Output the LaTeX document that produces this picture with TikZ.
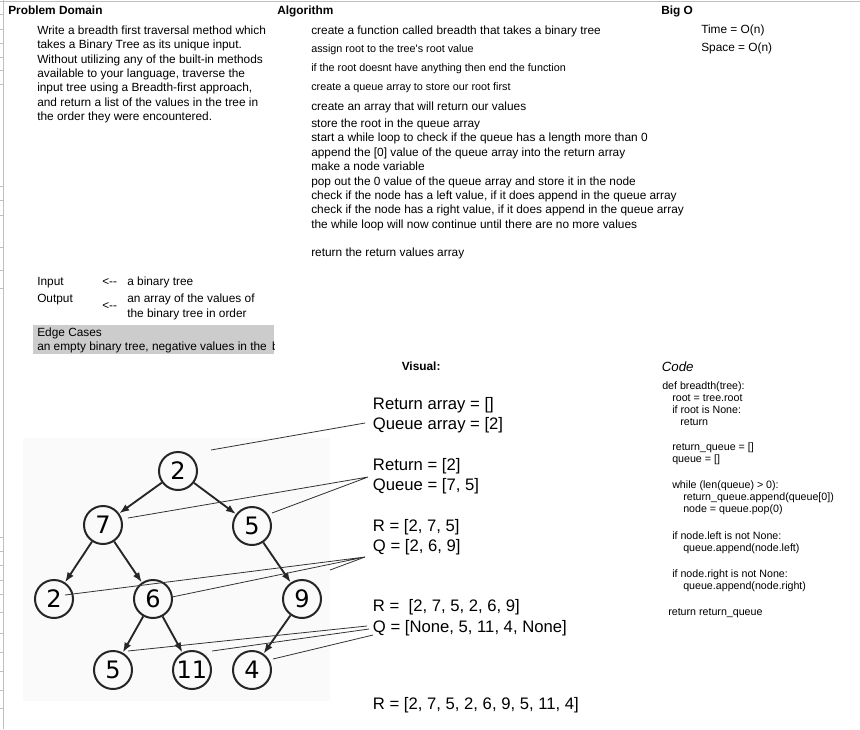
\documentclass[tikz,border=0pt]{standalone}
\usepackage{fontspec}
\setmainfont{Liberation Sans}
\newfontfamily\treefont{DejaVu Sans}
\usetikzlibrary{arrows.meta}
\begin{document}
\begin{tikzpicture}[x=0.75pt,y=-0.75pt,
  txt/.style={anchor=base west, inner sep=0pt, font=\fontsize{8.9}{10.7}\selectfont, text=black},
  hdr/.style={txt, font=\fontsize{8.9}{10.7}\selectfont\bfseries},
  smalltxt/.style={txt, font=\fontsize{8.1}{9.7}\selectfont},
  vis/.style={txt, font=\fontsize{12.5}{15}\selectfont},
  codetxt/.style={txt, font=\fontsize{8}{9.5}\selectfont},
  tn/.style={circle, draw=black!85, line width=1.5pt, minimum size=28.5pt, inner sep=0pt, font=\treefont\fontsize{18}{18}\selectfont},
  te/.style={line width=1.4pt, draw=black!85, -{Latex[length=7.5pt,width=5.5pt]}},
  conn/.style={line width=0.6pt, draw=black!80},
  grid/.style={line width=0.75pt, draw=black!25},
]
\useasboundingbox (0,0) rectangle (860,729);
\fill[white] (0,0) rectangle (860,729);
% sheet grid
\draw[grid] (0,1) -- (860,1);
\draw[grid] (3,0) -- (3,729);
\foreach \yy in {14,29,43,57,70,84,186,200,215,247,270,288,537,551,565,580,594,612,633,652,671,690,708}
  \draw[grid] (0,\yy) -- (3,\yy);

% headers
\node[hdr] (hpd) at (8,14) {Problem Domain};
\node[hdr] (hal) at (277,14) {Algorithm};
\node[hdr] (hbo) at (661,14) {Big O};

% problem domain
\foreach \t [count=\i] in {Write a breadth first traversal method which,
  takes a Binary Tree as its unique input.,
  {Without utilizing any of the built-in methods},
  {available to your language, traverse the},
  {input tree using a Breadth-first approach,},
  {and return a list of the values in the tree in},
  the order they were encountered.}
  \node[txt] (pd\i) at (37,{34.5+14.3*(\i-1)}) {\t};

% algorithm
\node[txt] (a1) at (311,34.3) {create a function called breadth that takes a binary tree};
\node[smalltxt] (a2) at (311,52.5) {assign root to the tree\textquotesingle s root value};
\node[smalltxt] (a3) at (311,71.5) {if the root doesnt have anything then end the function};
\node[smalltxt] (a4) at (311,90.5) {create a queue array to store our root first};
\node[txt] (a5) at (311,110) {create an array that will return our values};
\foreach \t [count=\i] in {store the root in the queue array,
  start a while loop to check if the queue has a length more than 0,
  {append the [0] value of the queue array into the return array},
  make a node variable,
  pop out the 0 value of the queue array and store it in the node,
  {check if the node has a left value, if it does append in the queue array},
  {check if the node has a right value, if it does append in the queue array},
  the while loop will now continue until there are no more values}
  \node[txt] (s\i) at (311,{127.5+14.4*(\i-1)}) {\t};
\node[txt] (a6) at (311,256.7) {return the return values array};

% big O
\node[txt] (bt) at (701,33.5) {Time = O(n)};
\node[txt] (bs) at (701,51) {Space = O(n)};

% input / output
\node[txt] (in) at (37,285) {Input};
\node[txt] (ina) at (102,285) {<-{}-};
\node[txt] (inv) at (127,285) {a binary tree};
\node[txt] (out) at (37,302) {Output};
\node[txt] (outa) at (102,309) {<-{}-};
\node[txt] (outv1) at (127,302) {an array of the values of};
\node[txt] (outv2) at (127,317) {the binary tree in order};

% edge cases
\begin{scope}
  \clip (33,325) rectangle (274,354);
  \fill[black!20] (33,325) rectangle (274,354);
  \node[txt] (ec1) at (37,336.7) {Edge Cases};
  \node[txt] (ec2) at (37,350.5) {an empty binary tree, negative values in the\hspace{1.5pt} binary tree};
\end{scope}

% visual
\node[hdr] (vh) at (401.5,370.7) {Visual:};
\node[vis] (v1) at (372.7,409.5) {Return array = []};
\node[vis] (v2) at (372.7,429.5) {Queue array = [2]};
\node[vis] (v3) at (372.7,470) {Return = [2]};
\node[vis] (v4) at (372.7,490) {Queue = [7, 5]};
\node[vis] (v5) at (372.7,531) {R = [2, 7, 5]};
\node[vis] (v6) at (372.7,551) {Q = [2, 6, 9]};
\node[vis] (v7) at (372.7,611.5) {R =\ \ [2, 7, 5, 2, 6, 9]};
\node[vis] (v8) at (372.7,632) {Q = [None, 5, 11, 4, None]};
\node[vis] (v9) at (372.7,709) {R = [2, 7, 5, 2, 6, 9, 5, 11, 4]};

% code
\node[txt, font=\fontsize{10}{12}\selectfont\itshape] (ch) at (661.5,371.7) {Code};
\node[codetxt] (c1) at (662,389.5) {def breadth(tree):};
\node[codetxt] (c2) at (672,401.5) {root = tree.root};
\node[codetxt] (c3) at (672,413.5) {if root is None:};
\node[codetxt] (c4) at (680,425.5) {return};
\node[codetxt] (c5) at (672,450.5) {return\_queue = []};
\node[codetxt] (c6) at (672,462.5) {queue = []};
\node[codetxt] (c7) at (672,488.5) {while (len(queue) > 0):};
\node[codetxt] (c8) at (683,500.5) {return\_queue.append(queue[0])};
\node[codetxt] (c9) at (683,512.5) {node = queue.pop(0)};
\node[codetxt] (c10) at (672,539.5) {if node.left is not None:};
\node[codetxt] (c11) at (683,551.5) {queue.append(node.left)};
\node[codetxt] (c12) at (672,577.5) {if node.right is not None:};
\node[codetxt] (c13) at (683,589.5) {queue.append(node.right)};
\node[codetxt] (c14) at (668,615.5) {return return\_queue};

% tree picture
\fill[black!2] (23,438) rectangle (330,701);
\node[tn] (n2) at (178,471) {2};
\node[tn] (n7) at (103,525) {7};
\node[tn] (n5) at (252,526) {5};
\node[tn] (n2l) at (54,599) {2};
\node[tn] (n6) at (153,599) {6};
\node[tn] (n9) at (302,599) {9};
\node[tn] (n5b) at (113,670) {5};
\node[tn] (n11) at (192,670) {11};
\node[tn] (n4) at (252,670) {4};
\draw[te] (n2) -- (n7);
\draw[te] (n2) -- (n5);
\draw[te] (n7) -- (n2l);
\draw[te] (n7) -- (n6);
\draw[te] (n5) -- (n9);
\draw[te] (n6) -- (n5b);
\draw[te] (n6) -- (n11);
\draw[te] (n9) -- (n4);

% connectors
\coordinate (j1) at (365,423);
\coordinate (e1) at (211,450);
\coordinate (j2) at (368,477);
\coordinate (e2a) at (128,518);
\coordinate (e2b) at (272,513);
\coordinate (j3) at (365,557);
\coordinate (e3a) at (65,595);
\coordinate (e3b) at (172,597);
\coordinate (e3c) at (330,570);
\coordinate (j4a) at (367,626);
\coordinate (j4b) at (369,629);
\coordinate (j4c) at (373,635);
\coordinate (e4a) at (128,651);
\coordinate (e4b) at (212,651);
\coordinate (e4c) at (273,659);
\draw[conn] (e1) -- (j1);
\draw[conn] (e2a) -- (j2) -- (e2b);
\draw[conn] (e3a) -- (j3) -- (e3b);
\draw[conn] (j3) -- (e3c);
\draw[conn] (e4a) -- (j4a);
\draw[conn] (e4b) -- (j4b);
\draw[conn] (e4c) -- (j4c);
\end{tikzpicture}
\end{document}
